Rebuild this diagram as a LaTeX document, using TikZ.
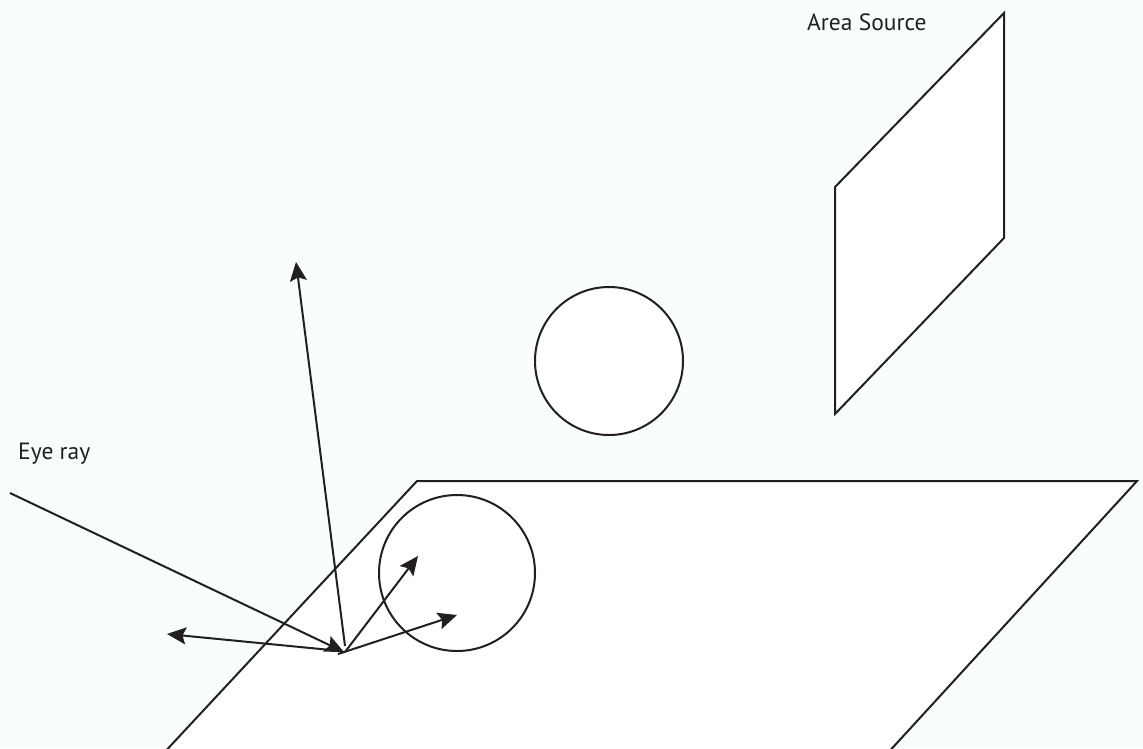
\documentclass[tikz,border=0pt]{standalone}
\usepackage{fontspec}
\setmainfont{PT Sans}
\usetikzlibrary{arrows.meta}
\definecolor{bgc}{RGB}{248,253,253}
\definecolor{ink}{RGB}{35,31,32}
\tikzset{
  shape line/.style={draw=ink, line width=2pt, fill=white, line join=miter},
  ray/.style={draw=ink, line width=2pt},
  arrowray/.style={ray, -{Stealth[length=19pt,width=17pt,inset=3.5pt]}},
  lbl/.style={text=ink, font=\fontsize{23.5}{26}\selectfont, inner sep=0pt}
}
\begin{document}
\begin{tikzpicture}[x=1pt,y=-1pt]
\fill[bgc] (0,0) rectangle (1143,748);
\useasboundingbox (0,0) rectangle (1143,748);
\begin{scope}
\clip (0,0) rectangle (1143,748);
% plane
\path[shape line] (417,481) -- (1137,481) -- (885,756) -- (161,756) -- cycle;
\end{scope}
% area source
\path[shape line] (1004,13) -- (1004,238) -- (835,414) -- (835,187) -- cycle;
% spheres
\node[shape line, circle, minimum size=148pt, inner sep=0pt] (s1) at (609,361) {};
\node[shape line, circle, minimum size=156pt, inner sep=0pt] (s2) at (457,573) {};
% labels
\node[lbl, anchor=base west] (eye) at (18,459) {Eye ray};
\node[lbl, anchor=base west] (area) at (807,30) {Area Source};
% rays
\coordinate (hit) at (344,652);
\coordinate (eyestart) at (10,493);
\coordinate (up) at (296,262);
\coordinate (left) at (167,634);
\coordinate (inner) at (418,556);
\coordinate (right) at (457,615);
\coordinate (base) at (338,654);
\draw[arrowray] (eyestart) -- (hit);
\draw[arrowray] (345,646) -- (up);
\draw[arrowray] (341,651) -- (left);
\draw[arrowray] (345,652) -- (inner);
\draw[arrowray] (base) -- (right);
\end{tikzpicture}
\end{document}
